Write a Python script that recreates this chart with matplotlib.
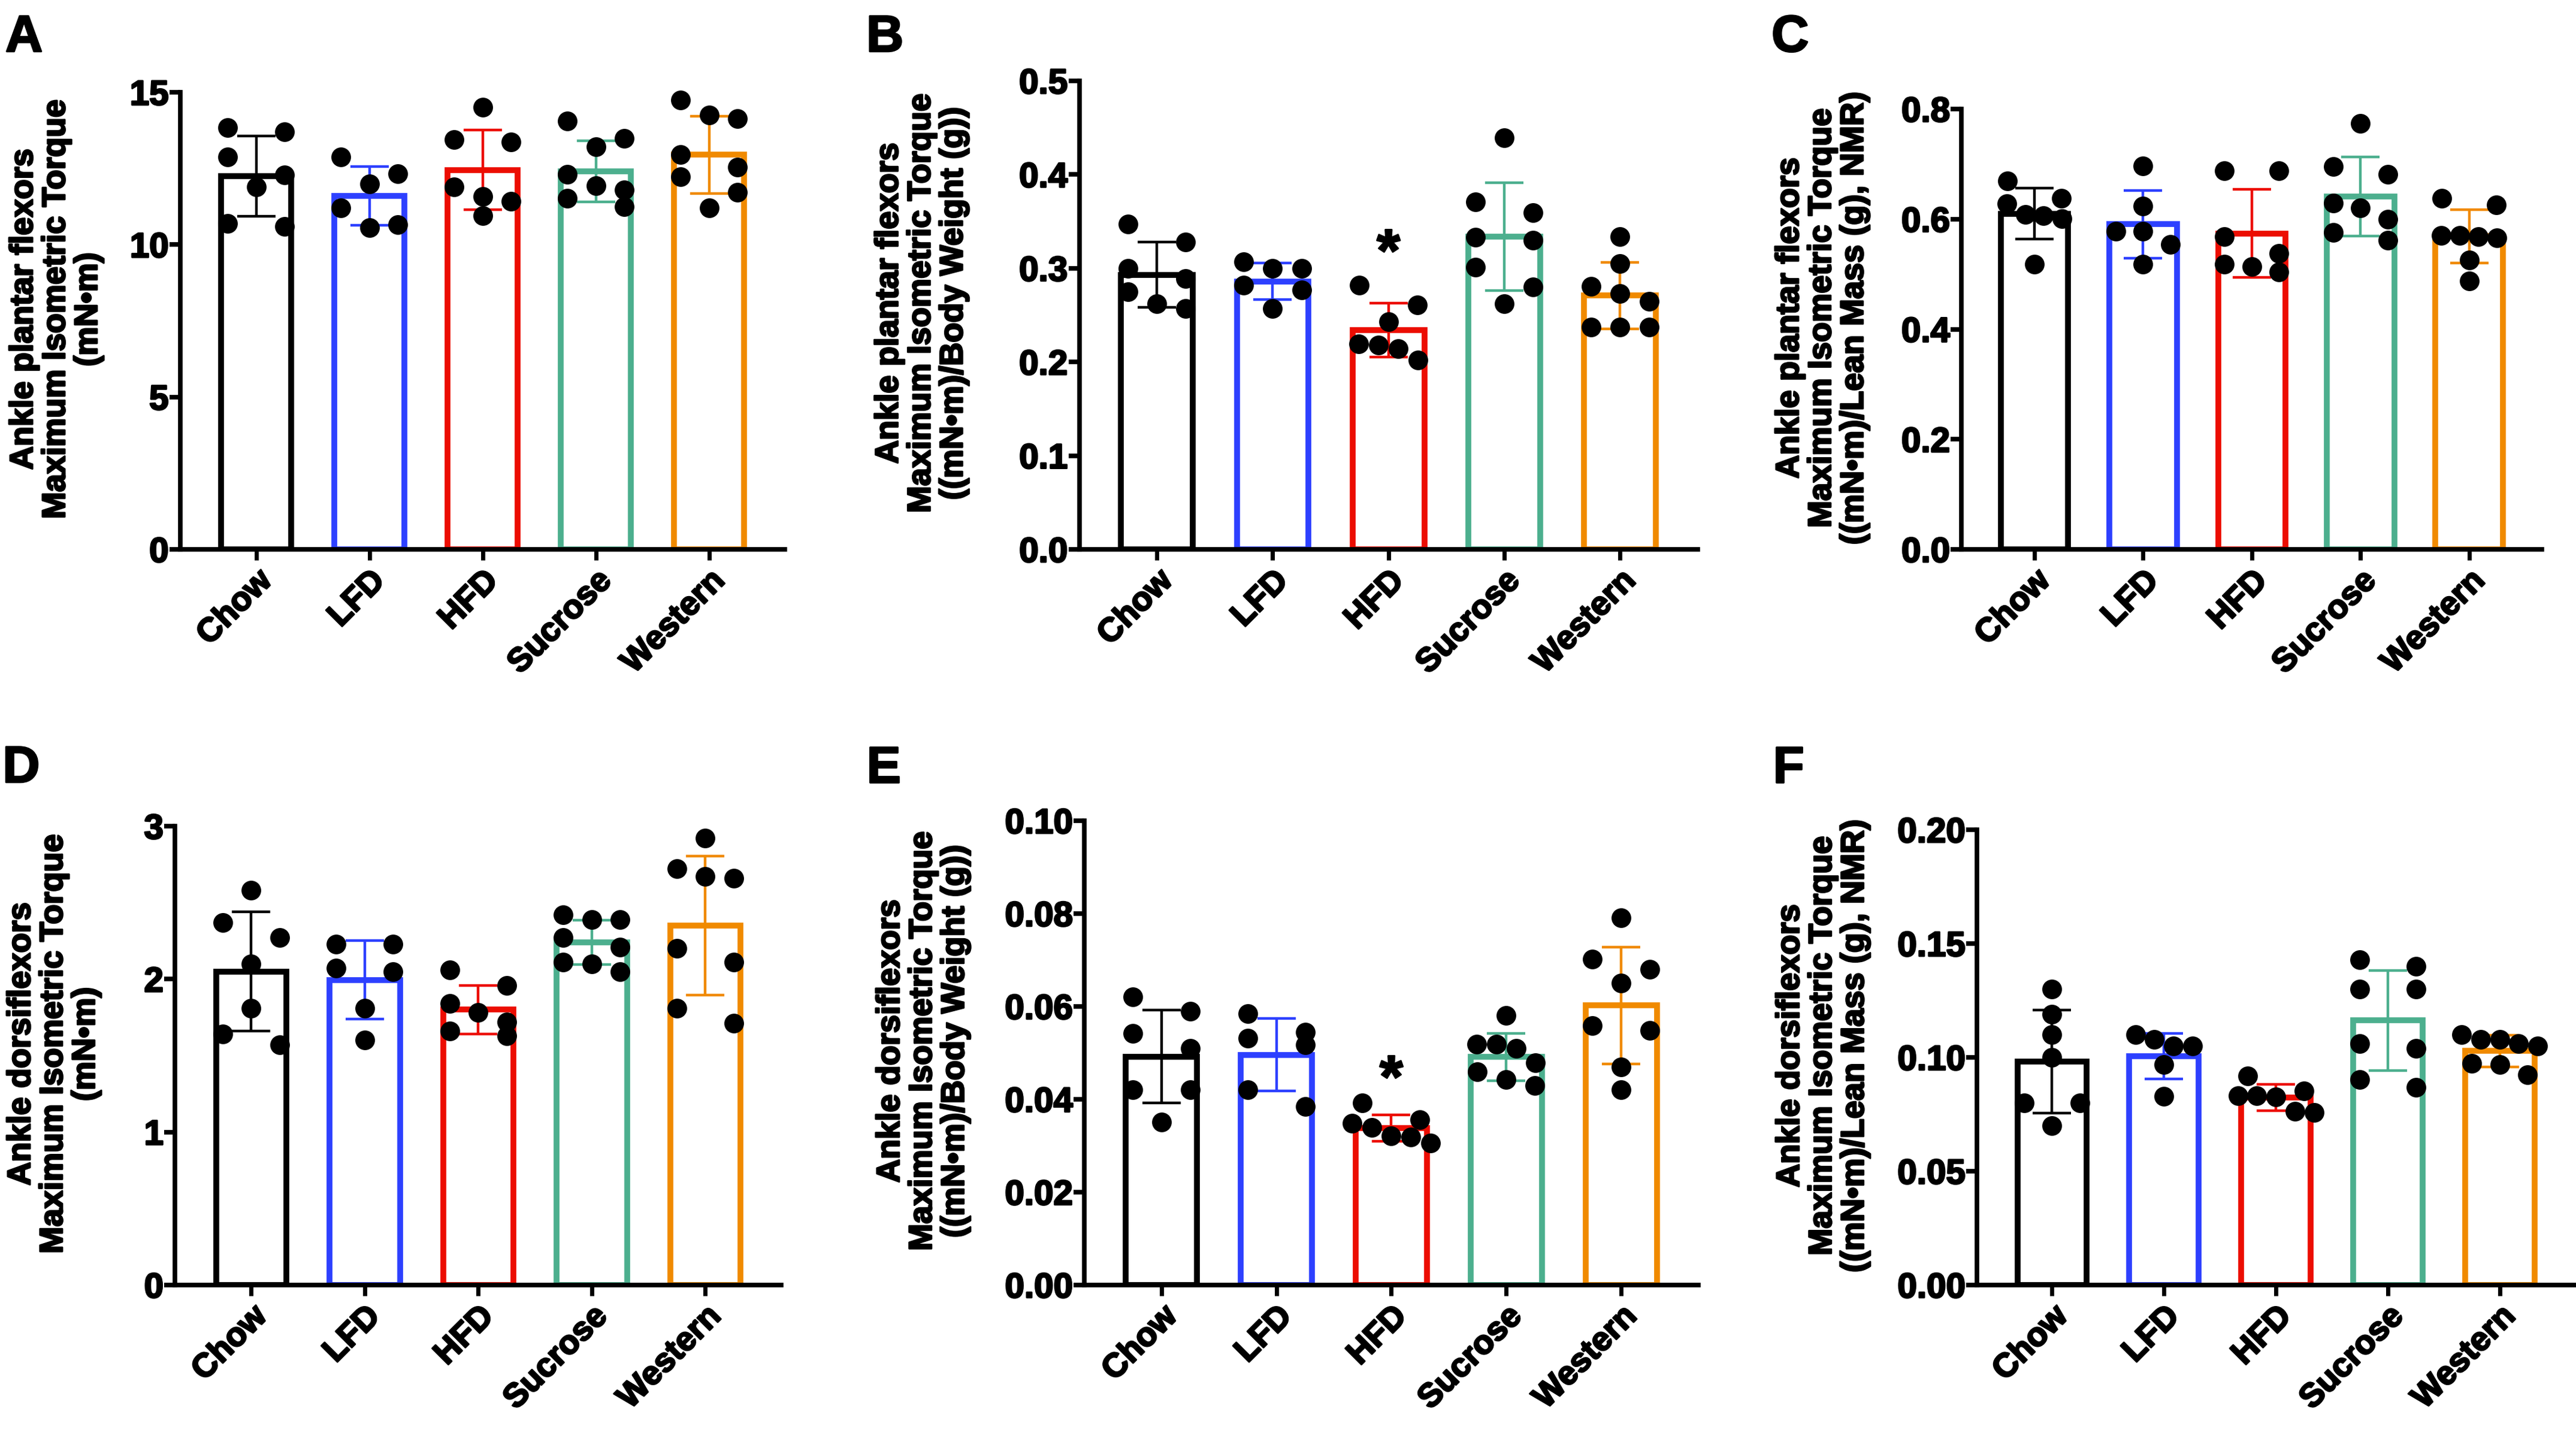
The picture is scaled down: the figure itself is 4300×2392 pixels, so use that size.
import numpy as np
import matplotlib
matplotlib.use('Agg')
import matplotlib.pyplot as plt
import matplotlib.patheffects as pe

plt.rcParams['font.family'] = ['Liberation Sans', 'DejaVu Sans']
plt.rcParams['font.weight'] = 'bold'

groups = ['Chow', 'LFD', 'HFD', 'Sucrose', 'Western']
colors = ['#000000', '#2D40FF', '#EC0D02', '#4CAF8E', '#F08A00']

# A: plantar flexors, absolute torque (mN*m)
A_mean = [12.25, 11.60, 12.45, 12.40, 12.95]
A_sd = [1.315, 0.955, 1.305, 1.005, 1.27]
A_pts = [[13.70, 13.84, 12.87, 12.28, 11.89, 10.59, 10.69],
         [12.87, 12.33, 11.99, 11.21, 10.56, 10.66],
         [14.51, 13.44, 13.37, 11.89, 11.58, 11.43, 10.95],
         [14.06, 13.48, 13.22, 12.30, 11.94, 11.79, 11.53, 11.24],
         [14.74, 14.25, 14.13, 12.95, 12.54, 12.23, 11.71, 11.21]]

# B: plantar flexors / body weight
B_mean = [0.293, 0.286, 0.234, 0.334, 0.271]
B_sd = [0.035, 0.0195, 0.029, 0.0575, 0.0355]
B_pts = [[0.347, 0.328, 0.300, 0.289, 0.275, 0.257, 0.262],
         [0.300, 0.300, 0.307, 0.277, 0.282, 0.257],
         [0.282, 0.261, 0.243, 0.219, 0.214, 0.218, 0.202],
         [0.439, 0.371, 0.359, 0.333, 0.330, 0.301, 0.280, 0.262],
         [0.334, 0.305, 0.281, 0.273, 0.265, 0.237, 0.237, 0.237]]

# C: plantar flexors / lean mass
C_mean = [0.610, 0.591, 0.574, 0.641, 0.569]
C_sd = [0.046, 0.0615, 0.080, 0.072, 0.0485]
C_pts = [[0.669, 0.628, 0.638, 0.606, 0.608, 0.601, 0.518],
         [0.697, 0.624, 0.578, 0.578, 0.554, 0.518],
         [0.688, 0.688, 0.568, 0.538, 0.518, 0.514, 0.504],
         [0.774, 0.696, 0.681, 0.629, 0.621, 0.600, 0.576, 0.562],
         [0.638, 0.626, 0.568, 0.570, 0.566, 0.570, 0.526, 0.488]]

# D: dorsiflexors, absolute torque
D_mean = [2.05, 1.995, 1.80, 2.24, 2.35]
D_sd = [0.39, 0.255, 0.16, 0.145, 0.455]
D_pts = [[2.58, 2.37, 2.27, 2.10, 1.81, 1.64, 1.57],
         [2.23, 2.23, 2.05, 2.07, 1.81, 1.60],
         [2.06, 1.96, 1.84, 1.78, 1.72, 1.63, 1.66],
         [2.39, 2.39, 2.42, 2.27, 2.21, 2.11, 2.10, 2.05],
         [2.92, 2.72, 2.67, 2.66, 2.20, 2.11, 1.81, 1.71]]

# E: dorsiflexors / body weight
E_mean = [0.0492, 0.0496, 0.0338, 0.0491, 0.0602]
E_sd = [0.0100, 0.0078, 0.00285, 0.00505, 0.01255]
E_pts = [[0.0621, 0.0590, 0.0542, 0.0509, 0.0420, 0.0420, 0.0351],
         [0.0585, 0.0532, 0.0545, 0.0517, 0.0420, 0.0385],
         [0.0392, 0.0348, 0.0356, 0.0339, 0.0318, 0.0321, 0.0306],
         [0.0580, 0.0519, 0.0519, 0.0509, 0.0479, 0.0459, 0.0430, 0.0442],
         [0.0791, 0.0702, 0.0680, 0.0650, 0.0548, 0.0558, 0.0469, 0.0420]]

# F: dorsiflexors / lean mass
F_mean = [0.0982, 0.1005, 0.0824, 0.1162, 0.1028]
F_sd = [0.0226, 0.0100, 0.00575, 0.0220, 0.0070]
F_pts = [[0.130, 0.119, 0.110, 0.100, 0.080, 0.080, 0.070],
         [0.108, 0.110, 0.105, 0.105, 0.0969, 0.0828],
         [0.0919, 0.0853, 0.0826, 0.0832, 0.0832, 0.0758, 0.0762],
         [0.143, 0.140, 0.130, 0.130, 0.104, 0.106, 0.0867, 0.0903],
         [0.108, 0.108, 0.110, 0.106, 0.105, 0.0923, 0.0973, 0.0969]]

B_star = 0.333
E_star = 0.0477

lab_pf = 'Ankle plantar flexors\nMaximum Isometric Torque\n'
lab_df = 'Ankle dorsiflexors\nMaximum Isometric Torque\n'

panels = [
    dict(letter='A', mean=A_mean, sd=A_sd, pts=A_pts, ticks=[0, 5, 10, 15], fmt='%d',
         ylabel=lab_pf + '(mN\u2022m)', rect=[0.0700, 0.6166, 0.2347, 0.3190],
         lab_x=-0.205, let_xy=(0.0021, 0.9900), star=None),
    dict(letter='B', mean=B_mean, sd=B_sd, pts=B_pts, ticks=[0, 0.1, 0.2, 0.3, 0.4, 0.5], fmt='%.1f',
         ylabel=lab_pf + '((mN\u2022m)/Body Weight (g))', rect=[0.4190, 0.6166, 0.2400, 0.3270],
         lab_x=-0.255, let_xy=(0.3363, 0.9900), star=B_star),
    dict(letter='C', mean=C_mean, sd=C_sd, pts=C_pts, ticks=[0, 0.2, 0.4, 0.6, 0.8], fmt='%.1f',
         ylabel=lab_pf + '((mN\u2022m)/Lean Mass (g), NMR)', rect=[0.7615, 0.6166, 0.2253, 0.3073],
         lab_x=-0.240, let_xy=(0.6877, 0.9900), star=None),
    dict(letter='D', mean=D_mean, sd=D_sd, pts=D_pts, ticks=[0, 1, 2, 3], fmt='%d',
         ylabel=lab_df + '(mN\u2022m)', rect=[0.0680, 0.1033, 0.2353, 0.3202],
         lab_x=-0.200, let_xy=(0.0010, 0.4800), star=None),
    dict(letter='E', mean=E_mean, sd=E_sd, pts=E_pts, ticks=[0, 0.02, 0.04, 0.06, 0.08, 0.10], fmt='%.2f',
         ylabel=lab_df + '((mN\u2022m)/Body Weight (g))', rect=[0.4210, 0.1033, 0.2382, 0.3240],
         lab_x=-0.263, let_xy=(0.3363, 0.4800), star=E_star),
    dict(letter='F', mean=F_mean, sd=F_sd, pts=F_pts, ticks=[0, 0.05, 0.10, 0.15, 0.20], fmt='%.2f',
         ylabel=lab_df + '((mN\u2022m)/Lean Mass (g), NMR)', rect=[0.7675, 0.1033, 0.2320, 0.3177],
         lab_x=-0.258, let_xy=(0.6881, 0.4800), star=None),
]

W, H = 4300, 2392
DOT_PX = 33
heavy = [pe.withStroke(linewidth=2.0, foreground='black')]


def row_offsets(vals, d, half=0.25, dx_min=0.17):
    # group points into rows (as in a Prism scatter) and spread each row
    vals = np.asarray(vals)
    order = np.argsort(-vals, kind='stable')
    rows = []
    for i in order:
        if rows and vals[rows[-1][0]] - vals[i] < d:
            rows[-1].append(i)
        else:
            rows.append([i])
    offs = np.zeros(len(vals))
    for r in rows:
        n = len(r)
        if n > 1:
            h = max(half, dx_min * (n - 1) / 2)
            for j, xo in zip(r, np.linspace(-h, h, n)):
                offs[j] = xo
    return offs


fig = plt.figure(figsize=(W / 100, H / 100), dpi=100)
x = np.arange(len(groups))

for p in panels:
    ax = fig.add_axes(p['rect'])
    ymax = p['ticks'][-1]
    ax.set_xlim(-0.67, 4.67)
    ax.set_ylim(0, ymax)

    ax.bar(x, p['mean'], width=0.62, color='white', edgecolor=colors, linewidth=7, zorder=2)
    for i in range(len(groups)):
        ax.errorbar(x[i], p['mean'][i], yerr=p['sd'][i], fmt='none', ecolor=colors[i],
                    elinewidth=3.2, capsize=23, capthick=3.2, zorder=3)

    d = DOT_PX / (p['rect'][3] * H / ymax)
    for i, vals in enumerate(p['pts']):
        offs = row_offsets(vals, d)
        ax.scatter(x[i] + offs, vals, s=560, color='black', linewidths=0, zorder=4, clip_on=False)

    if p['star'] is not None:
        fs = 72
        ax.annotate('*', xy=(2, p['star']), xytext=(0, -0.56 * fs), textcoords='offset points',
                    ha='center', va='baseline', fontsize=fs, fontweight='bold', path_effects=heavy)

    for s in ['top', 'right']:
        ax.spines[s].set_visible(False)
    for s in ['left', 'bottom']:
        ax.spines[s].set_linewidth(5.5)

    ax.set_yticks(p['ticks'])
    ax.set_yticklabels([p['fmt'] % t for t in p['ticks']])
    ax.tick_params(axis='y', length=13, width=5.5, pad=1, labelsize=42)
    ax.set_xticks(x)
    ax.set_xticklabels(groups, rotation=45, ha='right', va='top', rotation_mode='anchor')
    ax.tick_params(axis='x', length=13, width=5, pad=6, labelsize=40)
    for t in ax.get_xticklabels() + ax.get_yticklabels():
        t.set_path_effects(heavy)

    ax.text(p['lab_x'], 0.525, p['ylabel'], transform=ax.transAxes, rotation=90,
            ha='center', va='center', multialignment='center', fontsize=39,
            fontweight='bold', linespacing=1.1, path_effects=heavy)

    fig.text(p['let_xy'][0], p['let_xy'][1], p['letter'], ha='left', va='top',
             fontsize=62, fontweight='bold', path_effects=heavy)

fig.savefig('out.png', dpi=100)
